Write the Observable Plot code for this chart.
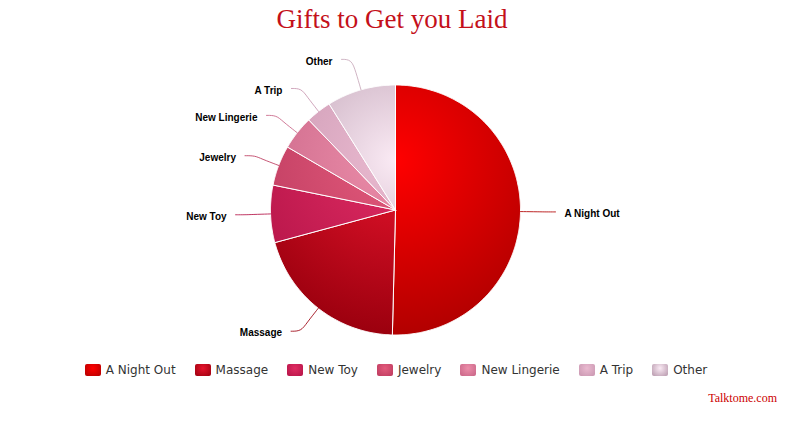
<!DOCTYPE html>
<html><head><meta charset="utf-8">
<script src="https://cdn.jsdelivr.net/npm/d3@7"></script>
<script src="https://cdn.jsdelivr.net/npm/@observablehq/plot@0.6"></script>
<style>
body{margin:0;background:#fff;width:788px;height:422px;overflow:hidden;position:relative}
#title{height:38px;line-height:38px;text-align:center;font-family:"Liberation Serif","Times New Roman",serif;font-size:27px;color:#c4101a;padding-right:4px}
#chart svg{display:block}
#legend{display:flex;justify-content:center;gap:19px;height:20px;margin-top:6px;padding-left:4px;font-family:"DejaVu Sans",sans-serif;font-size:12px;color:#333;align-items:center}
.item{display:flex;align-items:center;white-space:nowrap}
.sym{width:16px;height:12px;border-radius:2px;margin-right:5px}
#caption{position:absolute;top:390px;right:11px;font-family:"Liberation Serif","Times New Roman",serif;font-size:12px;color:#c00;line-height:16px}
</style>
</head><body>
<div id="title">Gifts to Get you Laid</div>
<div id="chart"></div>
<div id="legend"></div>
<div id="caption">Talktome.com</div>
<script>
const categories = ["A Night Out","Massage","New Toy","Jewelry","New Lingerie","A Trip","Other"];
const shares = [50.4, 20.4, 7.4, 5.2, 4.4, 3.3, 8.9];
const innerColors = ["#ff0000","#e6142d","#e02c62","#e35a7c","#ec8eaa","#eabad0","#faeaf4"];
const outerColors = ["#b20000","#9b000e","#b41448","#bc3a5e","#c86486","#c896b0","#b697ab"];

const W = 788, H = 316, R = 125, CX = 395, CY = 171.5;

const arcs = d3.pie().sort(null).value(d => d)(shares);

// slice polygons in radius units (x right, y up), angles clockwise from 12 o'clock
const slicePts = [];
arcs.forEach((a, i) => {
  const name = categories[i];
  slicePts.push({name, i, x: 0, y: 0});
  const n = Math.max(2, Math.ceil((a.endAngle - a.startAngle) / (Math.PI / 360)));
  for (let k = 0; k <= n; k++) {
    const t = a.startAngle + (a.endAngle - a.startAngle) * k / n;
    slicePts.push({name, i, x: Math.sin(t), y: Math.cos(t)});
  }
  slicePts.push({name, i, x: 0, y: 0});
});

// connectors and labels (label angle pulled slightly toward the horizontal)
const connPts = [], labels = [];
arcs.forEach((a, i) => {
  const m = (a.startAngle + a.endAngle) / 2;
  const sx = Math.sin(m), sy = Math.cos(m);
  const side = sx >= 0 ? 1 : -1;
  const h = side > 0 ? Math.PI / 2 : 3 * Math.PI / 2;
  const ml = h + (m - h) * 0.95;
  const name = categories[i];
  const P = {x: Math.sin(ml) * 1.28, y: Math.cos(ml) * 1.28};
  connPts.push({name, i, x: sx, y: sy});
  connPts.push({name, i, x: sx * 1.15, y: sy * 1.15});
  connPts.push({name, i, x: P.x - side * 0.08, y: P.y});
  connPts.push({name, i, x: P.x, y: P.y});
  labels.push({name, x: P.x, y: P.y, side});
});

function gradientDefs(index, scales) {
  const x = scales.x, y = scales.y;
  const gx = x(0), gy = y(0.4), gr = x(1.4) - x(0);
  const defs = d3.create("svg:defs");
  categories.forEach((c, i) => {
    const g = defs.append("radialGradient")
      .attr("id", "g" + i)
      .attr("gradientUnits", "userSpaceOnUse")
      .attr("cx", gx).attr("cy", gy).attr("r", gr);
    g.append("stop").attr("offset", "0%").attr("stop-color", innerColors[i]);
    g.append("stop").attr("offset", "100%").attr("stop-color", outerColors[i]);
  });
  return defs.node();
}

const plot = Plot.plot({
  width: W, height: H,
  margin: 0,
  x: {domain: [-CX / R, (W - CX) / R], axis: null},
  y: {domain: [-(H - CY) / R, CY / R], axis: null},
  color: {type: "identity"},
  marks: [
    gradientDefs,
    Plot.line(slicePts, {
      x: "x", y: "y", z: "name",
      fill: d => `url(#g${d.i})`,
      stroke: "#ffffff", strokeWidth: 1, strokeLinejoin: "round"
    }),
    Plot.line(connPts, {
      x: "x", y: "y", z: "name", curve: "basis",
      stroke: d => d.i === 6 ? "#c8a8ba" : outerColors[d.i],
      strokeWidth: 1, strokeOpacity: 0.85
    }),
    Plot.text(labels.filter(d => d.side > 0), {
      x: "x", y: "y", text: "name", textAnchor: "start", dx: 9, dy: 2,
      fontWeight: "bold", fontSize: 10, fontFamily: "Liberation Sans, Arial, sans-serif", fill: "#000"
    }),
    Plot.text(labels.filter(d => d.side < 0), {
      x: "x", y: "y", text: "name", textAnchor: "end", dx: -9, dy: 2,
      fontWeight: "bold", fontSize: 10, fontFamily: "Liberation Sans, Arial, sans-serif", fill: "#000"
    })
  ]
});
document.getElementById("chart").appendChild(plot);

const legend = d3.select("#legend");
categories.forEach((c, i) => {
  const it = legend.append("div").attr("class", "item");
  it.append("div").attr("class", "sym")
    .style("background", `radial-gradient(ellipse at 50% 35%, ${innerColors[i]} 0%, ${outerColors[i]} 100%)`);
  it.append("span").text(c);
});
</script>
</body></html>
